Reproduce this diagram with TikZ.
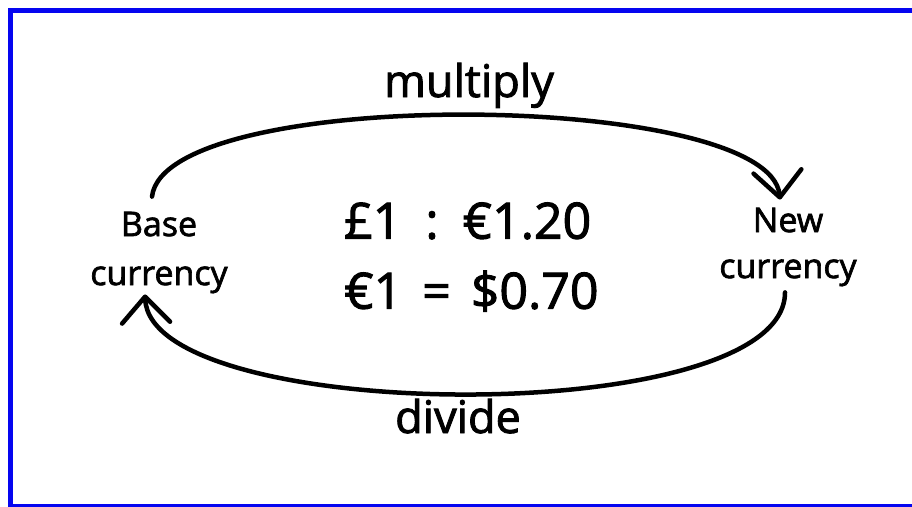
\documentclass[tikz,border=0pt]{standalone}
\usepackage{fontspec}
\setmainfont{Open Sans}[FakeBold=2]
\usetikzlibrary{arrows.meta}
\definecolor{frameblue}{RGB}{5,5,240}
\begin{document}
\begin{tikzpicture}[x=1pt,y=-1pt,
  lbl/.style={inner sep=0pt, align=center},
  big/.style={inner sep=0pt, font=\fontsize{45}{54}\selectfont},
  rate/.style={inner sep=0pt, align=left, font=\fontsize{50}{70}\selectfont},
  conn/.style={line width=4.5pt, line cap=round, -{Straight Barb[length=26pt,width=48pt,round]}},
  border/.style={draw=frameblue, line width=5pt}
]
\useasboundingbox (0,0) rectangle (912,506);
\clip (0,0) rectangle (912,506);
\fill[white] (0,0) rectangle (912,506);
\draw[border] (940,10) -- (10,10) -- (10,506.5) -- (940,506.5);

\node[lbl, font=\fontsize{34}{49}\selectfont] (base) at (159,252.5) {Base\\currency};
\node[lbl, font=\fontsize{34}{46}\selectfont] (new) at (788,247) {New\\currency};
\node[rate, anchor=west] (rates) at (344,257) {£1\hspace{.48em}:\hspace{.48em}€1.20\\€1\hspace{.4em}=\hspace{.4em}\$0.70};
\node[big, anchor=base] (mul) at (469,97) {multiply};
\node[big, anchor=base] (div) at (458,433) {divide};

\draw[conn] ([shift={(-7pt,15pt)}]base.north) .. controls (165,85) and (770,90) .. ([shift={(-8pt,8pt)}]new.north);
\draw[conn] ([shift={(-3pt,-6pt)}]new.south) .. controls (785,430) and (150,425) .. ([shift={(-14pt,-1pt)}]base.south);
\end{tikzpicture}
\end{document}
